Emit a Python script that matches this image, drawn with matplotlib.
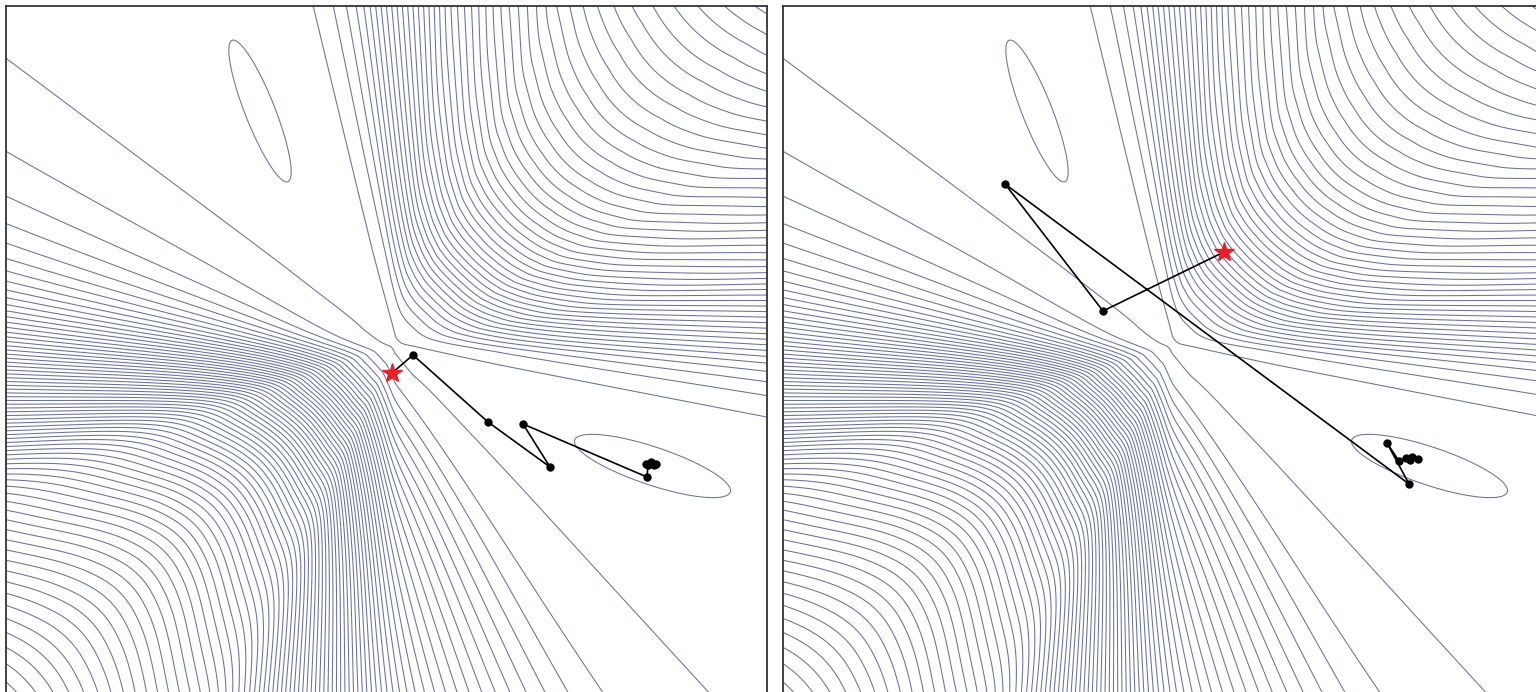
import numpy as np
import matplotlib.pyplot as plt

# optimiser iterates, left panel (start point first)
gd_x = [-0.03, 0.18, 0.93, 1.55, 1.28, 2.52, 2.53, 2.57, 2.61, 2.56, 2.51, 2.59]
gd_y = [-0.28, -0.10, -0.77, -1.22, -0.79, -1.32, -1.20, -1.18, -1.19, -1.17, -1.19, -1.20]

# optimiser iterates, right panel (start point first)
nt_x = [0.52, -0.69, -1.67, 2.37, 2.15, 2.27, 2.34, 2.40, 2.46, 2.38]
nt_y = [0.93, 0.34, 1.61, -1.39, -0.98, -1.16, -1.13, -1.12, -1.14, -1.15]

# frame limits (data units, saddle at the origin)
X_LEFT, X_RIGHT_L, X_RIGHT_R = -3.89, 3.72, 3.64
Y_BOTTOM, Y_TOP = -3.47, 3.39

# angular sectors of the two walls around the saddle (degrees)
UR_LO, UR_HI = -10.9, 103.6
LL_LO, LL_HI = 143.6, 312.2
LL_PEAK = 221.7

# where the contour levels cross the frame: position along the edge, level index
ur_top_x = [-0.82, -0.60, -0.48, -0.38, -0.30, 0.02, 0.55, 1.05, 1.55, 2.05, 2.55, 3.05]
ur_top_k = [0, 1, 2, 3, 4, 10, 20, 27, 32.5, 36.5, 39.5, 41.5]
ll_left_y = [2.87, 1.91, 1.46, 1.17, 0.98, 0.82, 0.68, 0.58, 0.43, 0.25, 0.05, -1.35, -3.45]
ll_left_k = [0, 1, 2, 3, 4, 5, 6, 7, 9, 12, 16, 53, 73]
ll_bot_x = [3.15, 2.03, 1.70, 1.48, 1.28, 1.13, 1.00, 0.85, 0.73, 0.62, 0.50,
            0.38, 0.28, 0.18, 0.08, 0.00, -0.08, -1.65, -3.89]
ll_bot_k = [0, 1, 2, 3, 4, 5, 6, 7, 8, 9, 10, 11, 12, 13, 14, 15, 16, 53, 73]

# the two basins: centre x, centre y, angle, semi-major, semi-minor
wells = [(2.575, -1.21, -18.5, 0.82, 0.19),
         (-1.35, 2.34, 111.5, 0.76, 0.15)]

# radial shape of each wall: core radius, outer growth
UR_R0, UR_BETA = 1.5, 0.0117
LL_R0, LL_BETA = 1.5, 0.008
RREF = 3.9


def radial(r, r0, beta):
    h = r**2 / (r**2 + r0**2) + beta * r**2
    href = RREF**2 / (RREF**2 + r0**2) + beta * RREF**2
    return h / href


def half_profile(px, py, k, theta0, sign, r0, beta):
    px, py, k = np.asarray(px), np.asarray(py), np.asarray(k, float)
    th = np.degrees(np.arctan2(py, px)) % 360
    d = sign * (th - theta0)
    d = (d + 180) % 360 - 180
    return d, k / radial(np.hypot(px, py), r0, beta)


ur_d, ur_f = half_profile(ur_top_x, np.full(len(ur_top_x), Y_TOP), ur_top_k, UR_HI, -1, UR_R0, UR_BETA)
ur_half = 0.5 * (UR_HI - UR_LO)
ur_d = np.r_[ur_d, ur_half]
ur_f = np.r_[ur_f, ur_f[-1] + 0.3]
ll_d, ll_f = half_profile(np.full(len(ll_left_y), X_LEFT), ll_left_y, ll_left_k, LL_LO, 1, LL_R0, LL_BETA)
lb_d, lb_f = half_profile(ll_bot_x, np.full(len(ll_bot_x), Y_BOTTOM), ll_bot_k, LL_HI, -1, LL_R0, LL_BETA)

tgrid = np.arange(0, 360, 0.1)
t_ur = (tgrid + 180) % 360 - 180


def smooth(F, sig):
    n = int(4 * sig / 0.1)
    kern = np.exp(-0.5 * (np.arange(-n, n + 1) * 0.1 / sig)**2)
    kern /= kern.sum()
    return np.convolve(np.r_[F[-n:], F, F[:n]], kern, mode='same')[n:-n]


def smoothstep(t):
    t = np.clip(t, 0, 1)
    return t * t * (3 - 2 * t)


def ang_dist(a, b):
    return np.abs((a - b + 180) % 360 - 180)


# upper-right wall: light smoothing on the flanks, heavier on the crest
F_ur = np.zeros_like(tgrid)
m = (t_ur >= UR_LO) & (t_ur <= UR_HI)
d_ur = np.minimum(UR_HI - t_ur, t_ur - UR_LO)
F_ur[m] = np.interp(d_ur[m], ur_d, ur_f)
w = np.clip(1 - (ang_dist(tgrid, 0.5 * (UR_LO + UR_HI)) - 6) / 12, 0, 1)
F_ur = (1 - w) * smooth(F_ur, 1.2) + w * smooth(F_ur, 6.0)
F_ur[~m] = 0

# lower-left wall: light next to the channel edges, medium on the flanks,
# heavy on the crest
F_ll = np.zeros_like(tgrid)
m1 = (tgrid >= LL_LO) & (tgrid <= LL_PEAK)
m2 = (tgrid > LL_PEAK) & (tgrid <= LL_HI)
F_ll[m1] = np.interp(tgrid[m1] - LL_LO, ll_d, ll_f)
F_ll[m2] = np.interp(LL_HI - tgrid[m2], lb_d, lb_f)
m = m1 | m2
d_ll = np.where(m, np.minimum(tgrid - LL_LO, LL_HI - tgrid), 0)
w = smoothstep((d_ll - 10) / 14)
wc = smoothstep(1 - (ang_dist(tgrid, LL_PEAK) - 4) / 22)
F_ll = ((1 - w) * smooth(F_ll, 1.2) + w * (1 - wc) * smooth(F_ll, 3.5)
        + w * wc * smooth(F_ll, 8.0))
F_ll[~m] = 0


def surface(x, y):
    r = np.hypot(x, y)
    th = np.degrees(np.arctan2(y, x)) % 360
    z = (np.interp(th, tgrid, F_ur, period=360) * radial(r, UR_R0, UR_BETA)
         + np.interp(th, tgrid, F_ll, period=360) * radial(r, LL_R0, LL_BETA))
    for cx, cy, ang, sa, sb in wells:
        a = np.radians(ang)
        s = (x - cx) * np.cos(a) + (y - cy) * np.sin(a)
        t = -(x - cx) * np.sin(a) + (y - cy) * np.cos(a)
        sa, sb = sa / np.sqrt(np.log(2)), sb / np.sqrt(np.log(2))
        z = z - np.exp(-(s / sa)**2 - (t / sb)**2)
    return z


xs = np.linspace(-4.0, 3.8, 1500)
ys = np.linspace(-3.6, 3.5, 1400)
X, Y = np.meshgrid(xs, ys)
Z = surface(X, Y)
levels = [-0.5, 0.05] + list(np.arange(1, 90))

W, H = 1536, 692
fig = plt.figure(figsize=(W / 100, H / 100), dpi=100)
line_col = '#6a7299'

panels = [
    (fig.add_axes([6 / W, 0, 761 / W, 686 / H]), X_RIGHT_L, gd_x, gd_y, ['left', 'top', 'right']),
    (fig.add_axes([783 / W, 0, 753 / W, 686 / H]), X_RIGHT_R, nt_x, nt_y, ['left', 'top']),
]

for ax, xr, px, py, spines in panels:
    ax.contour(X, Y, Z, levels=levels, colors=line_col, linewidths=0.75,
               linestyles='solid')
    ax.plot(px, py, '-o', color='black', lw=1.2, ms=5, zorder=3)
    ax.plot(px[0], py[0], '*', color='#e8202a', ms=15, mec='#e8202a', zorder=4)
    ax.set_xlim(X_LEFT, xr)
    ax.set_ylim(Y_BOTTOM, Y_TOP)
    ax.set_xticks([])
    ax.set_yticks([])
    for side, sp in ax.spines.items():
        sp.set_visible(side in spines)
        sp.set_color('#333333')
        sp.set_linewidth(1.3)

fig.savefig('out.png', dpi=100)
